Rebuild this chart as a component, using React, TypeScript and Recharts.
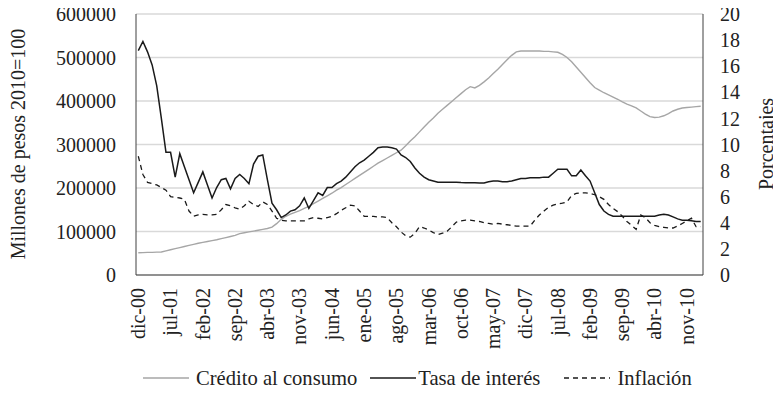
import { LineChart, Line, XAxis, YAxis, CartesianGrid, Legend } from 'recharts'

const FONT = '"Liberation Serif", "Times New Roman", serif'
const TXT = '#222222'

const meses = ['ene', 'feb', 'mar', 'abr', 'may', 'jun', 'jul', 'ago', 'sep', 'oct', 'nov', 'dic']

// dic-00 ... feb-11, mensual
const periodos: string[] = []
for (let k = 0; k < 123; k++) {
  const m = (11 + k) % 12
  const a = Math.floor((11 + k) / 12)
  periodos.push(`${meses[m]}-${String(a).padStart(2, '0')}`)
}

// millones de pesos 2010=100 (en miles)
const credito = [
  51, 51.5, 52, 52, 52.5, 53, 55.5, 58, 60.5, 63, 65.5, 68, 70.5, 73, 75, 77, 79, 81, 83.5, 86,
  88.5, 91, 95, 97, 99, 101, 103, 105, 107, 110, 118, 128, 135, 140, 144, 148, 153, 158, 164, 170,
  176, 182, 188, 195, 201, 208, 215, 222, 229, 236, 243, 250, 257, 263, 269, 275, 281, 287, 297, 308,
  318, 329, 340, 351, 361, 372, 381, 390, 399, 408, 417, 426, 433, 430, 436, 444, 453, 463, 473, 484,
  495, 505, 513, 515, 515, 515, 515, 515, 514, 514, 513, 512, 507, 500, 490, 478, 466, 454, 442, 431,
  425, 419, 414, 409, 404, 398, 393, 389, 384, 377, 370, 364, 362, 363, 366, 371, 377, 381, 384, 385,
  386, 387, 388,
]

// porcentajes
const tasa = [
  17.2, 17.9, 17.1, 16.1, 14.5, 12.0, 9.4, 9.4, 7.5, 9.3, 8.3, 7.3, 6.3, 7.1, 7.9, 6.9, 5.9, 6.7, 7.3, 7.4,
  6.6, 7.4, 7.7, 7.4, 7.0, 8.5, 9.1, 9.2, 7.3, 5.5, 5.0, 4.4, 4.6, 4.9, 5.0, 5.3, 5.9, 5.1, 5.7, 6.3,
  6.1, 6.7, 6.7, 7.0, 7.2, 7.5, 7.9, 8.3, 8.6, 8.8, 9.1, 9.4, 9.75, 9.8, 9.8, 9.75, 9.65, 9.2, 9.0, 8.7,
  8.2, 7.8, 7.5, 7.3, 7.2, 7.1, 7.1, 7.1, 7.1, 7.1, 7.08, 7.07, 7.07, 7.07, 7.05, 7.05, 7.15, 7.2, 7.2, 7.15,
  7.15, 7.2, 7.3, 7.4, 7.4, 7.45, 7.45, 7.45, 7.5, 7.5, 7.8, 8.1, 8.1, 8.1, 7.6, 7.6, 8.05, 7.6, 7.2, 6.3,
  5.4, 4.9, 4.65, 4.5, 4.5, 4.5, 4.5, 4.5, 4.5, 4.5, 4.5, 4.5, 4.5, 4.6, 4.65, 4.6, 4.45, 4.3, 4.2, 4.2,
  4.15, 4.1, 4.1,
]

const inflacion = [
  9.1, 7.7, 7.1, 7.0, 6.9, 6.7, 6.5, 6.0, 5.95, 5.9, 5.8, 4.9, 4.5, 4.6, 4.65, 4.6, 4.6, 4.65, 5.0, 5.4,
  5.3, 5.15, 5.05, 5.3, 5.65, 5.4, 5.25, 5.6, 5.4, 4.9, 4.35, 4.2, 4.15, 4.15, 4.15, 4.15, 4.15, 4.3, 4.4, 4.35,
  4.3, 4.4, 4.5, 4.7, 4.95, 5.15, 5.35, 5.3, 4.9, 4.5, 4.5, 4.5, 4.45, 4.45, 4.4, 4.0, 3.7, 3.3, 3.0, 2.9,
  3.2, 3.7, 3.6, 3.45, 3.25, 3.1, 3.2, 3.35, 3.7, 4.05, 4.15, 4.2, 4.2, 4.15, 4.1, 4.0, 3.95, 3.9, 3.95, 3.9,
  3.85, 3.8, 3.75, 3.75, 3.75, 3.75, 4.2, 4.6, 4.9, 5.2, 5.35, 5.45, 5.5, 5.6, 6.1, 6.25, 6.3, 6.3, 6.25, 6.15,
  6.0, 5.8, 5.4, 5.1, 4.85, 4.5, 4.1, 3.8, 3.5, 4.6, 4.4, 4.0, 3.8, 3.7, 3.65, 3.6, 3.6, 3.75, 3.95, 4.15,
  4.35, 3.7, 3.7,
]

const ticksIzq = [0, 100000, 200000, 300000, 400000, 500000, 600000]
const ticksDer = [0, 2, 4, 6, 8, 10, 12, 14, 16, 18, 20]
const nombres = ['Crédito al consumo', 'Tasa de interés', 'Inflación']
const titulos = ['Millones de pesos 2010=100', 'Porcentajes']

const data = periodos.map((p, i) => ({
  p,
  credito: credito[i] * 1000,
  tasa: tasa[i],
  inflacion: inflacion[i],
}))

function MesTick({ x, y, payload }: any) {
  return (
    <text
      x={x}
      y={y}
      dy="0.34em"
      textAnchor="end"
      transform={`rotate(-90, ${x}, ${y})`}
      fontSize={20}
      fontFamily={FONT}
      fill={TXT}
    >
      {payload.value}
    </text>
  )
}

// titulo vertical centrado en (cx, cy)
function Titulo({ texto, cx, cy }: any) {
  return (
    <text
      x={cx}
      y={cy}
      dy="0.34em"
      textAnchor="middle"
      transform={`rotate(-90, ${cx}, ${cy})`}
      fontSize={20}
      fontFamily={FONT}
      fill={TXT}
    >
      {texto}
    </text>
  )
}

function Muestra({ color, dash }: { color: string; dash?: string }) {
  return (
    <svg width={46} height={24} style={{ display: 'block' }}>
      <line x1={0} x2={46} y1={12} y2={12} stroke={color} strokeWidth={1.5} strokeDasharray={dash} />
    </svg>
  )
}

function Leyenda() {
  return (
    <div
      style={{
        display: 'flex',
        alignItems: 'center',
        height: 24,
        paddingLeft: 143,
        fontFamily: FONT,
        fontSize: 20.6,
        color: TXT,
        whiteSpace: 'nowrap',
        lineHeight: '24px',
      }}
    >
      <Muestra color="#a6a6a6" />
      <span style={{ marginLeft: 7, marginRight: 13 }}>{nombres[0]}</span>
      <Muestra color="#1a1a1a" />
      <span style={{ marginLeft: 2, marginRight: 24 }}>{nombres[1]}</span>
      <Muestra color="#1a1a1a" dash="5 4" />
      <span style={{ marginLeft: 7 }}>{nombres[2]}</span>
    </div>
  )
}

export default function App() {
  const tickStyle = { fontSize: 20, fontFamily: FONT, fill: TXT }
  return (
    <div style={{ marginTop: -8, marginLeft: -8, width: 781, height: 400 }}>
      <LineChart
        width={781}
        height={400}
        data={data}
        margin={{ top: 14, right: 0, left: 0, bottom: 21 }}
      >
        <CartesianGrid yAxisId="left" vertical={false} stroke="#d9d9d9" strokeWidth={1.3} />
        <XAxis
          dataKey="p"
          interval={6}
          padding={{ left: 2.3, right: 2.3 }}
          height={80}
          tickLine={false}
          tickSize={0}
          tickMargin={13}
          axisLine={{ stroke: '#404040' }}
          tick={<MesTick />}
        />
        <XAxis
          xAxisId="top"
          dataKey="p"
          orientation="top"
          height={0}
          tick={false}
          tickLine={false}
          axisLine={{ stroke: '#404040' }}
        />
        <YAxis
          yAxisId="left"
          width={136}
          domain={[0, 600000]}
          ticks={ticksIzq}
          interval={0}
          tickLine={false}
          tickSize={0}
          tickMargin={20}
          axisLine={{ stroke: '#404040' }}
          tick={tickStyle}
          label={<Titulo texto={titulos[0]} cx={18} cy={144} />}
        />
        <YAxis
          yAxisId="right"
          orientation="right"
          width={78}
          domain={[0, 20]}
          ticks={ticksDer}
          interval={0}
          tickLine={false}
          tickSize={0}
          tickMargin={17}
          axisLine={{ stroke: '#404040' }}
          tick={{ ...tickStyle, textAnchor: 'start' }}
          label={<Titulo texto={titulos[1]} cx={766} cy={144} />}
        />
        <Legend
          verticalAlign="bottom"
          content={<Leyenda />}
          wrapperStyle={{ top: 366, bottom: 'auto', left: 0, width: 781, height: 24 }}
        />
        <Line
          yAxisId="left"
          type="linear"
          dataKey="credito"
          name={nombres[0]}
          stroke="#a6a6a6"
          strokeWidth={1.4}
          dot={false}
          isAnimationActive={false}
        />
        <Line
          yAxisId="right"
          type="linear"
          dataKey="tasa"
          name={nombres[1]}
          stroke="#1a1a1a"
          strokeWidth={1.5}
          dot={false}
          isAnimationActive={false}
        />
        <Line
          yAxisId="right"
          type="linear"
          dataKey="inflacion"
          name={nombres[2]}
          stroke="#1a1a1a"
          strokeWidth={1.3}
          strokeDasharray="5 4"
          dot={false}
          isAnimationActive={false}
        />
      </LineChart>
    </div>
  )
}
